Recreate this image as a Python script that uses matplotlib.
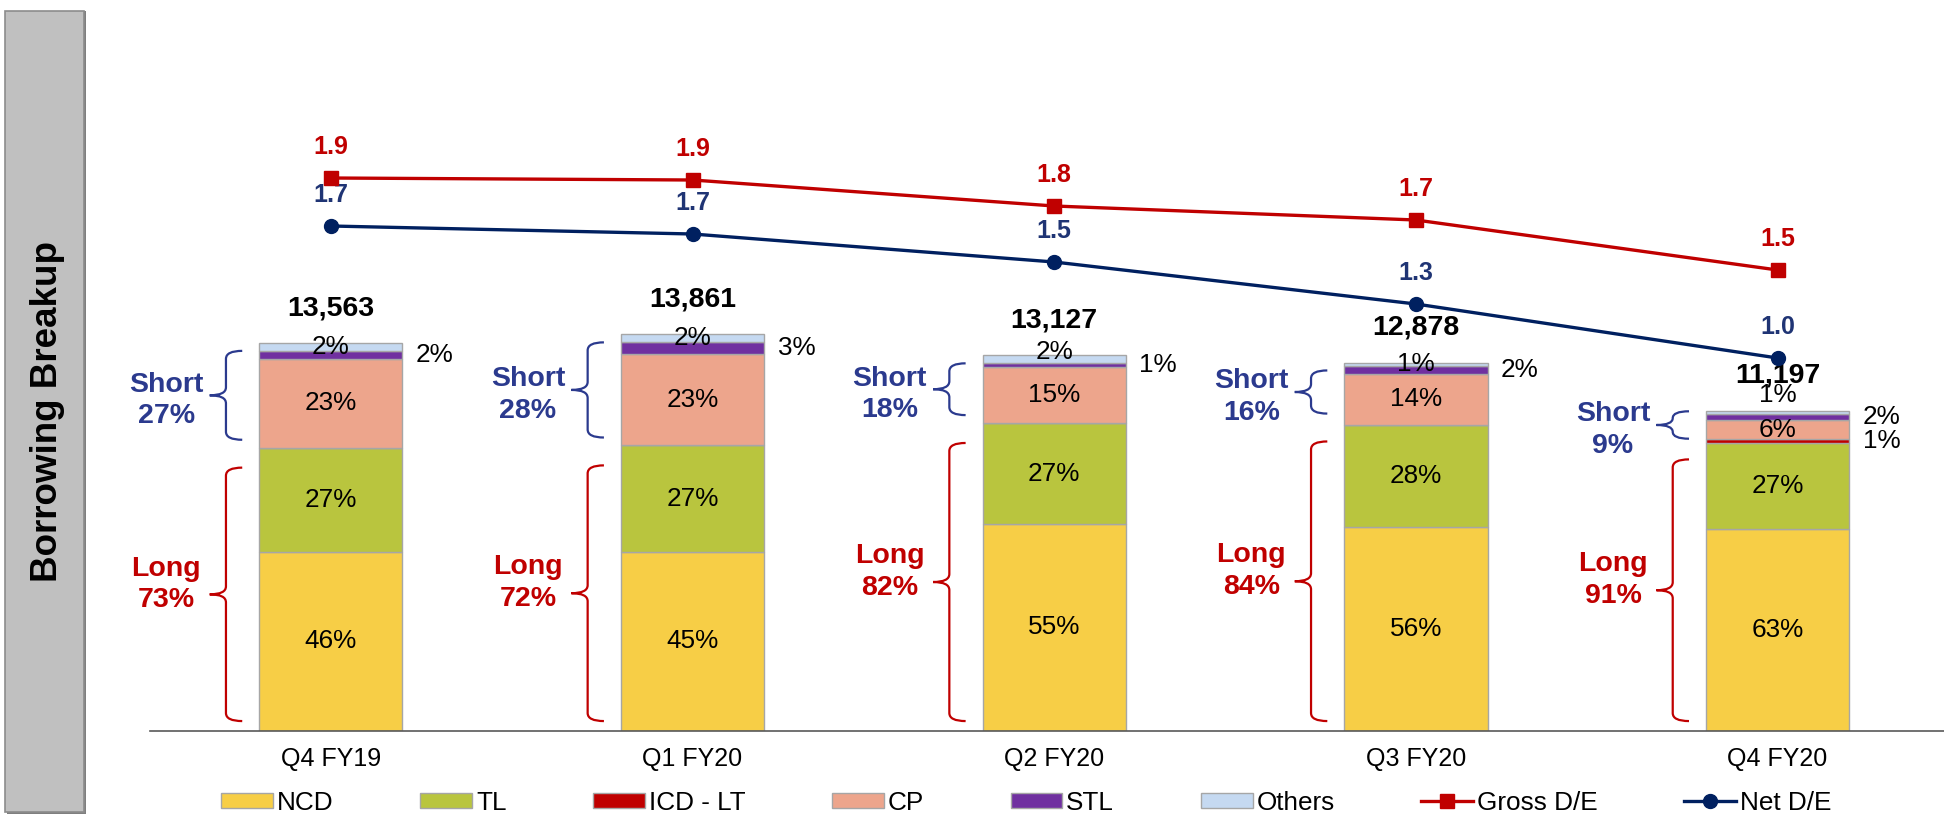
import numpy as np
import matplotlib.pyplot as plt
from matplotlib.path import Path
from matplotlib.patches import PathPatch, Rectangle, Patch
from matplotlib.lines import Line2D

plt.rcParams['font.family'] = ['Liberation Sans', 'DejaVu Sans']

# === data ===
quarters = ["Q4 FY19", "Q1 FY20", "Q2 FY20", "Q3 FY20", "Q4 FY20"]
totals = [13563, 13861, 13127, 12878, 11197]
ncd = [46, 45, 55, 56, 63]
tl = [27, 27, 27, 28, 27]
icd_lt = [0, 0, 0, 0, 1]
cp = [23, 23, 15, 14, 6]
stl = [2, 3, 1, 2, 2]
others = [2, 2, 2, 1, 1]
long_pct = [73, 72, 82, 84, 91]
short_pct = [27, 28, 18, 16, 9]
gross_de = [1.94, 1.93, 1.80, 1.73, 1.48]
net_de = [1.70, 1.66, 1.52, 1.31, 1.04]

# === style ===
seg_names = ["NCD", "TL", "ICD - LT", "CP", "STL", "Others"]
seg_colors = ["#F7CE46", "#B9C53E", "#C00000", "#EDA58C", "#7030A0", "#C5D9F1"]
red = "#C00000"
navy = "#002060"
short_col = "#2B3A8E"
pct_fs = 18.8

fig = plt.figure(figsize=(19.44, 8.14), dpi=100)
ax = fig.add_axes([150 / 1944, 83.5 / 814, 1 - 150 / 1944, 730.5 / 814])
ax2 = ax.twinx()

x = np.arange(len(quarters))
width = 0.396
tot = np.array(totals, dtype=float)
segs = [ncd, tl, icd_lt, cp, stl, others]
sums = np.sum(np.array(segs, dtype=float), axis=0)

bottom = np.zeros(len(x))
mids = []
for name, vals, col in zip(seg_names, segs, seg_colors):
    h = tot * np.array(vals) / sums
    ax.bar(x, h, width, bottom=bottom, color=col, edgecolor="#A6A6A6", linewidth=1, zorder=2)
    mids.append(bottom + h / 2)
    bottom = bottom + h

# segment labels
others_lift = [0, 0, 250, 0, 600]
for i in range(len(x)):
    for k in (0, 1, 3):
        ax.text(x[i], mids[k][i], f"{segs[k][i]}%", ha="center", va="center", fontsize=pct_fs, zorder=5)
    if icd_lt[i] > 0:
        ax.text(x[i] + 0.235, mids[2][i], f"{icd_lt[i]}%", ha="left", va="center", fontsize=pct_fs)
    ax.text(x[i] + 0.235, mids[4][i], f"{stl[i]}%", ha="left", va="center", fontsize=pct_fs)
    ax.text(x[i], mids[5][i] + others_lift[i], f"{others[i]}%", ha="center", va="center",
            fontsize=pct_fs, zorder=5)
    ax.annotate(f"{totals[i]:,}", (x[i], tot[i]), xytext=(0, 25), textcoords="offset points",
                ha="center", va="center", fontsize=20.5, fontweight="bold", zorder=6)


# === braces ===
def brace(xc, y0, y1, color):
    xv, xt, xp = xc - 0.29, xc - 0.245, xc - 0.335
    r = min(280, (y1 - y0) / 4)
    ym = (y0 + y1) / 2
    verts = [(xt, y1), (xv, y1), (xv, y1 - r), (xv, ym + r), (xv, ym), (xp, ym),
             (xv, ym), (xv, ym - r), (xv, y0 + r), (xv, y0), (xt, y0)]
    codes = [Path.MOVETO, Path.CURVE3, Path.CURVE3, Path.LINETO, Path.CURVE3, Path.CURVE3,
             Path.CURVE3, Path.CURVE3, Path.LINETO, Path.CURVE3, Path.CURVE3]
    ax.add_patch(PathPatch(Path(verts, codes), fill=False, edgecolor=color, linewidth=1.6, zorder=3))
    return ym


for i in range(len(x)):
    long_top = tot[i] * long_pct[i] / 100
    ym = brace(x[i], 330, long_top - 700, red)
    ax.text(x[i] - 0.455, ym + 350, f"Long\n{long_pct[i]}%", ha="center", va="center", fontsize=20.5,
            fontweight="bold", color=red, linespacing=1.28)
    smid = (long_top + tot[i]) / 2
    half = max((tot[i] - long_top - 550) / 2, 480)
    ym = brace(x[i], smid - half, smid + half, short_col)
    ax.text(x[i] - 0.455, ym - 180, f"Short\n{short_pct[i]}%", ha="center", va="center", fontsize=20.5,
            fontweight="bold", color=short_col, linespacing=1.28)

# === lines ===
ax2.plot(x, gross_de, color=red, lw=2.4, marker="s", ms=9.5, zorder=4)
ax2.plot(x, net_de, color=navy, lw=2.4, marker="o", ms=10, zorder=4)
for i in range(len(x)):
    ax2.annotate(f"{gross_de[i]:.1f}", (x[i], gross_de[i]), xytext=(0, 22.5), textcoords="offset points",
                 ha="center", va="center", fontsize=18, fontweight="bold", color=red)
    ax2.annotate(f"{net_de[i]:.1f}", (x[i], net_de[i]), xytext=(0, 22.5), textcoords="offset points",
                 ha="center", va="center", fontsize=18, fontweight="bold", color="#1F3474")

# === axes ===
ax.set_xlim(-0.5, 4.46)
ax.set_ylim(0, 25569)
ax2.set_ylim(-0.8225, 2.83)
ax.set_xticks(x, quarters)
ax.tick_params(axis="x", length=0, pad=12, labelsize=18)
ax.set_yticks([])
ax2.set_yticks([])
for a in (ax, ax2):
    for s in ("top", "right", "left"):
        a.spines[s].set_visible(False)
ax2.spines["bottom"].set_visible(False)
ax.spines["bottom"].set_color("#595959")
ax.spines["bottom"].set_linewidth(1.2)

# === left label box ===
fig.patches.append(Rectangle((7 / 1944, 0.0), 79 / 1944, 803 / 814, transform=fig.transFigure,
                             facecolor="#7F7F7F", edgecolor="none", zorder=0))
fig.patches.append(Rectangle((5 / 1944, 2 / 814), 79 / 1944, 801 / 814, transform=fig.transFigure,
                             facecolor="#C0C0C0", edgecolor="#8C8C8C", linewidth=1.2, zorder=1))
fig.text(0.0242, 0.4945, "Borrowing Breakup", rotation=90, ha="center", va="center",
         fontsize=26.5, fontweight="bold")

# === legend ===
handles = [Patch(facecolor=c, edgecolor="#A6A6A6") for c in seg_colors]
handles += [Line2D([], [], color=red, lw=2.4, marker="s", ms=9.5),
            Line2D([], [], color=navy, lw=2.4, marker="o", ms=10)]
labels = seg_names + ["Gross D/E", "Net D/E"]
fig.legend(handles, labels, loc="center", bbox_to_anchor=(0.528, 0.0139), ncol=8, frameon=False,
           fontsize=18.8, handlelength=1.98, handleheight=0.51, handletextpad=0.15,
           columnspacing=3.32, borderpad=0, borderaxespad=0)

fig.savefig("out.png", dpi=100)
